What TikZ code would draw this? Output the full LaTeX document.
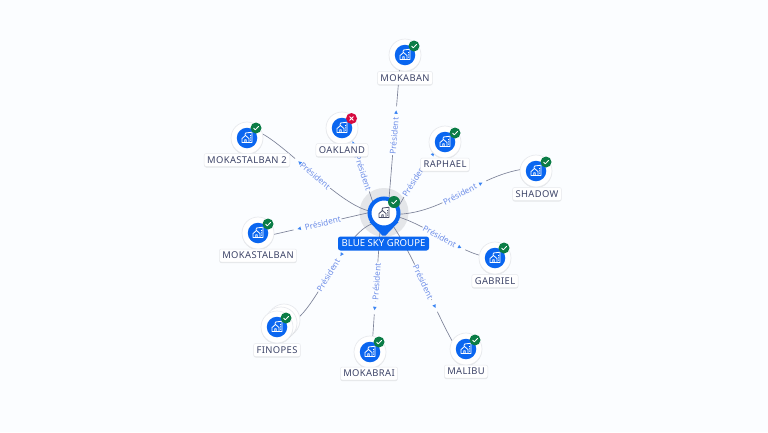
\documentclass[tikz,border=0pt]{standalone}
\usepackage{fontspec}
\setmainfont{Noto Sans}
\newfontfamily\namefont[LetterSpace=4]{Noto Sans}
\usetikzlibrary{shapes.geometric,shadows}
\definecolor{pagebg}{HTML}{FBFDFF}
\definecolor{haloc}{HTML}{E4E6E9}
\definecolor{mainblue}{HTML}{0A66F0}
\definecolor{okgreen}{HTML}{0B7D46}
\definecolor{nored}{HTML}{D60A40}
\definecolor{labink}{HTML}{3D4468}
\definecolor{edgeink}{HTML}{7C8298}
\definecolor{edgetext}{HTML}{6F8FE8}
\definecolor{hubink}{HTML}{474C66}
\definecolor{rimc}{HTML}{E8EAEE}
\pgfdeclarelayer{edgelayer}
\pgfsetlayers{edgelayer,main}
\tikzset{
  softshadow/.style={drop shadow={shadow xshift=0pt,shadow yshift=-1pt,opacity=.09,fill=black}},
  disc/.style={circle,fill=white,draw=rimc,line width=.7pt,minimum size=32pt,inner sep=0pt,outer sep=0pt,softshadow},
  bluedisc/.style={circle,fill=mainblue,minimum size=20.5pt,inner sep=0pt},
  namebox/.style={rectangle,rounded corners=2pt,fill=white,draw=rimc,line width=.5pt,text=labink,font=\namefont\fontsize{9.4}{10}\selectfont,minimum height=13pt,inner xsep=3pt,inner ysep=0pt,softshadow},
  okbadge/.style={circle,fill=okgreen,minimum size=11pt,inner sep=0pt},
  nobadge/.style={circle,fill=nored,minimum size=11pt,inner sep=0pt},
  edgeline/.style={draw=edgeink,line width=.65pt},
  edgelabel/.style={sloped,fill=pagebg,text=edgetext,font=\fontsize{8.2}{9}\selectfont,inner xsep=1pt,inner ysep=.5pt},
  arrowgap/.style={circle,fill=pagebg,minimum size=13pt,inner sep=0pt},
  arrowtip/.style={isosceles triangle,isosceles triangle stretches,sloped,allow upside down,fill=mainblue!80!white,minimum height=3.4pt,minimum width=3.6pt,inner sep=0pt,outer sep=0pt},
  pics/estate/.style={code={
    \draw[#1,line width=.8pt,line join=round,line cap=round]
      (-5,4.5)--(-5,.5)--(-1.5,-2.5)--(2,.5)--(2,4.5)--cycle
      (-2.2,4.5)--(-2.2,1.8)--(-.8,1.8)--(-.8,4.5)
      (-2,-3)--(-1.5,-5)--(5,-5.8)--(5,4.5)--(2,4.5);
    \fill[#1] (3,-2.8) rectangle (4,-1.8) (3,-.6) rectangle (4,.4) (3,1.6) rectangle (4,2.6);
  }},
  pics/tick/.style={code={\draw[white,line width=.8pt,line cap=round,line join=round](-2.4,.1)--(-.7,1.8)--(2.5,-1.5);}},
  pics/cross/.style={code={\draw[white,line width=.8pt,line cap=round](-1.9,-1.9)--(1.9,1.9)(-1.9,1.9)--(1.9,-1.9);}},
}
\newcommand{\place}[8]{%
  \node[disc] (#1) at (#2,#3) {};
  \node[bluedisc] (#1-blue) at (#2,#3) {};
  \pic at (#2,#3) {estate=white};
  \node[namebox] (#1-name) at (#4,#5) {#6};
  \node[#7badge] (#1-badge) at (#8) {};
  \ifnum\pdfstrcmp{#7}{ok}=0 \pic at (#8) {tick};\else \pic at (#8) {cross};\fi
}
\newcommand{\conn}[4]{%
  \draw[edgeline] #2
    node[arrowgap,pos=#4] (gap-#1) {}
    node[edgelabel,pos=#3] (lab-#1) {Président}
    node[arrowtip,pos=#4] (tip-#1) {};
}
\begin{document}
\begin{tikzpicture}[x=1pt,y=-1pt]
\path[use as bounding box] (0,0) rectangle (768,432);
% leaf entities
\node[disc] (finopes-back1) at (284,320) {};
\node[disc] (finopes-back2) at (281,323) {};
\place{mokaban}{405}{55}{405}{78}{MOKABAN}{ok}{414,46}
\place{raphael}{445}{142}{445}{164.5}{RAPHAEL}{ok}{455,133}
\place{shadow}{536}{171}{537}{194}{SHADOW}{ok}{546,162}
\place{gabriel}{495}{258}{495}{281}{GABRIEL}{ok}{504,248}
\place{malibu}{466}{349}{466}{371.5}{MALIBU}{ok}{475,340}
\place{mokabrai}{370}{352}{369}{373.5}{MOKABRAI}{ok}{379,342}
\place{finopes}{277}{327}{277}{350}{FINOPES}{ok}{286,318}
\place{mokastalban}{258}{233}{258}{255.5}{MOKASTALBAN}{ok}{268,224}
\place{mokastalbantwo}{247}{138}{247}{160}{MOKASTALBAN 2}{ok}{256,128}
\place{oakland}{342}{128}{342}{150}{OAKLAND}{no}{351.5,118.5}
% hub
\fill[mainblue] (369.5,222) -- (382.5,235.6) -- (385.5,235.6) -- (398.5,222) -- cycle;
\node[circle,fill=white,draw=mainblue,line width=4pt,minimum size=29pt,inner sep=0pt,outer sep=0pt] (hub) at (384,213) {};
\begin{scope}[scale=.82]
\pic at (468.3,259.8) {estate=hubink};
\end{scope}
\node[okbadge,minimum size=12pt] (hub-badge) at (394,202) {};
\pic at (394,202) {tick};
\node[rectangle,rounded corners=2.5pt,fill=mainblue,text=white,font=\fontsize{9.6}{10}\selectfont,minimum width=91pt,minimum height=14pt,inner sep=0pt] (hub-name) at (383.5,243.5) {BLUE SKY GROUPE};
% connectors underneath
\begin{pgfonlayer}{edgelayer}
\fill[pagebg] (0,0) rectangle (768,432);
\fill[haloc] (384,212.5) circle (24.5);
\conn{a}{(hub.70) -- (mokaban.250)}{.49}{.67}
\conn{b}{(hub.138) -- (oakland.-50)}{.48}{.95}
\conn{c}{(hub.20) .. controls (404,197) and (418,172) .. (raphael.225)}{.55}{.98}
\conn{d}{(hub.-5) .. controls (445,212) and (475,178) .. (shadow.175)}{.5}{.68}
\conn{e}{(hub.-15) .. controls (425,225) and (455,248) .. (gabriel.170)}{.5}{.74}
\conn{f}{(hub.-55) .. controls (413,255) and (434,308) .. (malibu.150)}{.5}{.69}
\conn{g}{(hub.-105) -- (mokabrai.80)}{.5}{.74}
\conn{h}{(hub.-135) .. controls (343,232) and (315,313) .. (finopes.20)}{.52}{.36}
\conn{i}{(hub.178) -- (mokastalban.-5)}{.49}{.73}
\conn{j}{(hub.172) .. controls (340,205) and (290,149) .. (mokastalbantwo.15)}{.5}{.63}
\end{pgfonlayer}
\end{tikzpicture}
\end{document}
